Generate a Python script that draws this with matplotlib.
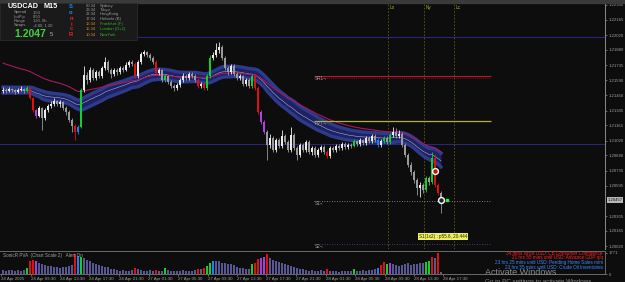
import numpy as np
import pandas as pd
import matplotlib
matplotlib.use("Agg")
import matplotlib.pyplot as plt
from matplotlib.patches import Rectangle
import matplotlib.transforms as mtransforms

plt.rcParams['font.family'] = ['Liberation Sans', 'DejaVu Sans']

# USDCAD M15 candles
first_open = 1.21490
closes = [1.21500, 1.21490, 1.21509, 1.21500, 1.21481, 1.21500, 1.21509, 1.21490, 1.21519, 1.21424,
          1.21310, 1.21253, 1.21329, 1.21234, 1.21310, 1.21348, 1.21367, 1.21396, 1.21367, 1.21386,
          1.21329, 1.21291, 1.21216, 1.21159, 1.21102, 1.21149, 1.21500, 1.21642, 1.21594, 1.21689,
          1.21613, 1.21670, 1.21632, 1.21708, 1.21765, 1.21689, 1.21651, 1.21689, 1.21670, 1.21708,
          1.21689, 1.21736, 1.21765, 1.21746, 1.21632, 1.21765, 1.21841, 1.21860, 1.21831, 1.21803,
          1.21765, 1.21661, 1.21689, 1.21594, 1.21632, 1.21575, 1.21538, 1.21519, 1.21547, 1.21594,
          1.21632, 1.21613, 1.21651, 1.21632, 1.21594, 1.21538, 1.21557, 1.21519, 1.21632, 1.21803,
          1.21831, 1.21878, 1.21907, 1.21803, 1.21708, 1.21670, 1.21727, 1.21651, 1.21613, 1.21632,
          1.21557, 1.21594, 1.21538, 1.21632, 1.21519, 1.21291, 1.21197, 1.21102, 1.20979, 1.21045,
          1.20932, 1.21026, 1.20969, 1.21064, 1.21007, 1.20932, 1.21074, 1.20950, 1.20884, 1.20979,
          1.20932, 1.21007, 1.20913, 1.20950, 1.20884, 1.20932, 1.20960, 1.20913, 1.20875, 1.20950,
          1.20932, 1.20969, 1.20950, 1.20988, 1.20960, 1.20979, 1.20969, 1.21017, 1.20988, 1.21026,
          1.20998, 1.21045, 1.21017, 1.21064, 1.21026, 1.20979, 1.21017, 1.21045, 1.21007, 1.21074,
          1.21102, 1.21064, 1.21083, 1.20979, 1.20884, 1.20789, 1.20723, 1.20647, 1.20572, 1.20600,
          1.20553, 1.20666, 1.20629, 1.20856, 1.20600, 1.20524, 1.20457]
highs = [1.21528, 1.21519, 1.21528, 1.21519, 1.21509, 1.21519, 1.21538, 1.21519, 1.21538, 1.21528,
         1.21433, 1.21320, 1.21348, 1.21339, 1.21329, 1.21367, 1.21396, 1.21424, 1.21405, 1.21405,
         1.21396, 1.21348, 1.21310, 1.21234, 1.21178, 1.21168, 1.21519, 1.21727, 1.21670, 1.21718,
         1.21708, 1.21689, 1.21689, 1.21727, 1.21812, 1.21784, 1.21708, 1.21708, 1.21708, 1.21727,
         1.21727, 1.21765, 1.21784, 1.21784, 1.21765, 1.21784, 1.21860, 1.21878, 1.21869, 1.21850,
         1.21822, 1.21784, 1.21708, 1.21699, 1.21651, 1.21642, 1.21594, 1.21557, 1.21566, 1.21613,
         1.21661, 1.21651, 1.21670, 1.21670, 1.21651, 1.21613, 1.21575, 1.21575, 1.21651, 1.21831,
         1.21860, 1.21945, 1.21954, 1.21926, 1.21822, 1.21727, 1.21746, 1.21746, 1.21670, 1.21651,
         1.21642, 1.21613, 1.21613, 1.21651, 1.21651, 1.21538, 1.21310, 1.21216, 1.21121, 1.21083,
         1.21064, 1.21045, 1.21045, 1.21121, 1.21083, 1.21026, 1.21149, 1.21093, 1.20969, 1.20998,
         1.20998, 1.21026, 1.21026, 1.20969, 1.20969, 1.20950, 1.20979, 1.20979, 1.20932, 1.20969,
         1.20969, 1.20988, 1.20988, 1.21007, 1.21007, 1.20998, 1.20998, 1.21036, 1.21026, 1.21045,
         1.21036, 1.21064, 1.21064, 1.21083, 1.21083, 1.21045, 1.21036, 1.21064, 1.21064, 1.21093,
         1.21149, 1.21140, 1.21121, 1.21102, 1.20998, 1.20903, 1.20818, 1.20742, 1.20666, 1.20629,
         1.20619, 1.20685, 1.20685, 1.20913, 1.20894, 1.20619, 1.20543]
lows = [1.21471, 1.21471, 1.21481, 1.21481, 1.21462, 1.21471, 1.21490, 1.21471, 1.21481, 1.21414,
        1.21291, 1.21234, 1.21244, 1.21121, 1.21216, 1.21291, 1.21329, 1.21348, 1.21348, 1.21339,
        1.21310, 1.21263, 1.21197, 1.21102, 1.21026, 1.21083, 1.21140, 1.21481, 1.21557, 1.21575,
        1.21594, 1.21594, 1.21613, 1.21613, 1.21689, 1.21670, 1.21613, 1.21632, 1.21642, 1.21651,
        1.21670, 1.21680, 1.21718, 1.21727, 1.21613, 1.21613, 1.21746, 1.21822, 1.21812, 1.21784,
        1.21746, 1.21642, 1.21642, 1.21575, 1.21575, 1.21557, 1.21519, 1.21490, 1.21500, 1.21528,
        1.21575, 1.21594, 1.21594, 1.21613, 1.21575, 1.21519, 1.21519, 1.21500, 1.21500, 1.21613,
        1.21784, 1.21812, 1.21850, 1.21784, 1.21689, 1.21642, 1.21651, 1.21632, 1.21594, 1.21594,
        1.21538, 1.21538, 1.21519, 1.21519, 1.21500, 1.21272, 1.21178, 1.21083, 1.20837, 1.20950,
        1.20913, 1.20913, 1.20950, 1.20950, 1.20988, 1.20913, 1.20913, 1.20932, 1.20837, 1.20865,
        1.20913, 1.20913, 1.20894, 1.20884, 1.20865, 1.20865, 1.20913, 1.20894, 1.20856, 1.20856,
        1.20913, 1.20913, 1.20932, 1.20932, 1.20941, 1.20941, 1.20950, 1.20960, 1.20969, 1.20969,
        1.20979, 1.20979, 1.20998, 1.20998, 1.21007, 1.20960, 1.20960, 1.20998, 1.20988, 1.20988,
        1.21055, 1.21045, 1.21045, 1.20960, 1.20865, 1.20771, 1.20695, 1.20619, 1.20505, 1.20486,
        1.20524, 1.20534, 1.20600, 1.20610, 1.20581, 1.20505, 1.20335]
volumes = [320, 280, 350, 300, 260, 310, 290, 340,
           480, 1100, 1180, 1050, 950,
           820, 760, 700, 640, 560, 600, 520, 560, 620, 700, 780,
           1690, 1480, 1420,
           1350, 1180, 1050, 900, 820, 760, 680, 600, 560,
           420, 380, 300, 260, 340, 280, 240, 300,
           460,
           380, 330, 280, 260, 300, 240,
           340, 260, 280, 480,
           300, 260, 220, 240, 280, 300, 260, 240, 280, 320,
           400, 420, 520, 700, 900, 1050,
           1100, 1050, 950, 900, 850, 800, 760,
           600, 520, 480, 420, 450,
           820, 900, 1250, 1300, 1450, 1650,
           1300, 1150, 1050, 980, 900, 800, 720, 650,
           560, 480, 420, 380, 300, 260, 320, 280, 240, 300,
           260, 380,
           220, 260, 240, 200, 260, 240, 280, 220,
           380,
           260, 240, 300, 280, 320, 360, 400,
           480, 720, 1000, 850, 900,
           820, 760, 700, 780, 820, 880, 760, 800, 840, 900,
           900, 1000, 1080, 1400, 1300, 1771, 180]

ema_long_seed = 1.21765

price_ticks = [1.22305, 1.22165, 1.22020, 1.21880, 1.21735, 1.21590, 1.21450, 1.21305,
               1.21165, 1.21020, 1.20880, 1.20735, 1.20595, 1.20305, 1.20165, 1.20020]
current_price = 1.20457

time_labels = ["24 Apr 2025", "24 Apr 09:30", "24 Apr 13:30", "24 Apr 17:30", "24 Apr 21:30",
               "27 Apr 01:30", "27 Apr 05:30", "27 Apr 09:30", "27 Apr 13:30", "27 Apr 17:30",
               "27 Apr 21:30", "28 Apr 01:30", "28 Apr 05:30", "28 Apr 09:30", "28 Apr 13:30",
               "28 Apr 17:30"]
time_label_bars = [-0.7, 9.2, 19.0, 28.8, 38.7, 48.5, 58.3, 68.2, 78.0, 87.8, 97.7, 107.5,
                   117.3, 127.2, 137.0, 146.8]

# pivot levels and lines
sr1, pvt, s1, s2 = 1.21632, 1.21206, 1.20448, 1.20041
navy_levels = [1.22002, 1.20988]
sessions = ["Lo", "Ny", "Lc"]
session_bars = [128.3, 140.3, 150.3]

# sonic R colouring
candle_colors = {}
for i in [9, 10, 24, 44, 51, 65, 67, 84, 85, 108, 144, 145]:
    candle_colors[i] = '#e01010'
for i in [8, 26, 54, 68, 69, 83, 117, 127, 129, 141, 143]:
    candle_colors[i] = '#10d030'
for i in [25, 125]:
    candle_colors[i] = '#1e7cff'
for i in [11, 86, 87]:
    candle_colors[i] = '#b040e0'

vol_colors = {}
for i in [9, 10, 24, 44, 51, 65, 67, 84, 85, 88, 108, 126, 127, 143, 145]:
    vol_colors[i] = '#e01010'
for i in [8, 26, 54, 68, 69, 83, 117, 128, 141, 142]:
    vol_colors[i] = '#10d030'
for i in [25, 70, 125]:
    vol_colors[i] = '#1e7cff'
for i in [11, 86, 87, 129]:
    vol_colors[i] = '#a040e0'

W, H = 625, 282
BG = '#0d0d0d'

closes = np.array(closes)
highs = np.array(highs)
lows = np.array(lows)
opens = np.concatenate([[first_open], closes[:-1]])
idx = np.arange(len(closes))

fig = plt.figure(figsize=(W / 100, H / 100), dpi=100, facecolor=BG)


def T(x, y, s, **kw):
    kw.setdefault('va', 'center')
    kw.setdefault('ha', 'left')
    fig.text(x / W, 1 - y / H, s, **kw)


fig.patches.append(Rectangle((0, 1 - 2.5 / H), 1, 2.5 / H, transform=fig.transFigure,
                             color='#3a3a3a', zorder=0))

ax = fig.add_axes([0, 33 / H, 605 / W, 246 / H], facecolor=BG)
sub = fig.add_axes([0, 8 / H, 605 / W, 23 / H], facecolor=BG)

xl = (-1, (605 - 3) / 3)
ax.set_xlim(*xl)
ax.set_ylim(1.22352 - 249 * 0.0000947, 1.22352 - 3 * 0.0000947)

# dragon + long ema
e_h = pd.Series(highs).ewm(span=34, adjust=False).mean().values
e_l = pd.Series(lows).ewm(span=34, adjust=False).mean().values
e_c = pd.Series(closes).ewm(span=34, adjust=False).mean().values
e_long = pd.Series(np.concatenate([[ema_long_seed], closes])).ewm(span=50, adjust=False).mean().values[1:]

ax.fill_between(idx, e_l, e_h, color='#1d2362', lw=0, zorder=1)
ax.plot(idx, e_h, color='#2e3a8c', lw=2.4, zorder=1)
ax.plot(idx, e_l, color='#2e3a8c', lw=2.4, zorder=1)
ax.plot(idx, e_c, color='#c0c0d8', lw=0.35, zorder=2)
ax.plot(idx, e_long, color='#a8185e', lw=0.8, zorder=2)

for lvl in navy_levels:
    ax.axhline(lvl, color='#26267a', lw=0.8, zorder=0.5)

# candles
cols = []
for i in idx:
    if i in candle_colors:
        cols.append(candle_colors[i])
    elif closes[i] >= opens[i]:
        cols.append('#ececec')
    else:
        cols.append('#9a9a9a')
ax.vlines(idx, lows, highs, colors=cols, lw=0.6, zorder=3)
body = np.where(np.abs(closes - opens) < 0.00003, 0.00003, closes - opens)
ax.bar(idx, body, bottom=opens, width=0.6, color=cols, lw=0, zorder=3)

# pivot levels
x0, x1 = 103.5, 162.5
ax.hlines(sr1, x0, x1, color='#c81020', lw=0.8, zorder=2)
ax.hlines(sr1 - 0.00014, x0, x1, color='#c81020', lw=0.5, linestyles=(0, (1, 2)), zorder=2)
ax.hlines(pvt, x0, x1, color='#b4b428', lw=0.9, zorder=2)
ax.hlines(s1, x0, x1, color='#a0a0b0', lw=0.6, linestyles=(0, (1, 2)), zorder=2)
ax.hlines(s2, x0, x1, color='#4c4ca0', lw=0.6, linestyles=(0, (1, 2)), zorder=2)
for name, lvl in [("SR1", sr1), ("PVT", pvt), ("S1", s1), ("S2", s2)]:
    ax.text(x0 + 0.3, lvl - 0.00022, name + "\u00ac", color='#a0a0a0', fontsize=3.3,
            va='center', ha='left', zorder=4)

# session lines
trans = mtransforms.blended_transform_factory(ax.transData, ax.transAxes)
for name, b in zip(sessions, session_bars):
    ax.axvline(b, color='#5c5c12', lw=0.6, ls=(0, (2, 2)), zorder=0.6)
    ax.text(b + 0.5, 0.99, name, transform=trans, color='#a8a830', fontsize=3.3,
            va='top', ha='left')

# markers
ax.plot([144], [1.20733], 'o', ms=4.2, mfc='#c01010', mec='white', mew=1.0, zorder=5)
ax.plot([146], [current_price], 'o', ms=4.2, mfc='#202020', mec='white', mew=1.0, zorder=5)
ax.plot([148], [current_price], 's', ms=1.8, color='#20ff20', zorder=5)
ax.text(146.7, 1.20112, "S1(1x2) : p55.6, 20.444", color='#202000', fontsize=3.3,
        ha='center', va='center', zorder=5,
        bbox=dict(boxstyle='square,pad=0.25', fc='#f0f060', ec='none'))

# right price axis
ax.yaxis.tick_right()
ax.set_yticks(price_ticks)
ax.set_yticklabels([f"{p:.5f}" for p in price_ticks])
ax.tick_params(axis='y', colors='#8a8a8a', labelcolor='#a0a0a0', labelsize=3.1, length=1.5,
               width=0.5, pad=1)
ax.set_xticks([])
for s in ['top', 'left', 'bottom']:
    ax.spines[s].set_visible(False)
ax.spines['right'].set_color('#8a8a8a')
ax.spines['right'].set_linewidth(0.7)
ytr = mtransforms.blended_transform_factory(ax.transAxes, ax.transData)
ax.text(1.004, current_price, "1.20457", transform=ytr, fontsize=3.1, color='#101010',
        va='center', ha='left', bbox=dict(boxstyle='square,pad=0.2', fc='#b8b8b8', ec='none'))

# volume sub window
sub.set_xlim(*xl)
sub.set_ylim(0, 1910)
vcols = [vol_colors.get(i, '#575794') for i in idx]
sub.bar(idx, volumes, width=0.6, color=vcols, lw=0)
sub.yaxis.tick_right()
sub.set_yticks([0, 1771])
sub.set_yticklabels(["0", "1771"])
sub.tick_params(axis='y', colors='#8a8a8a', labelcolor='#a0a0a0', labelsize=3.1, length=1.5,
                width=0.5, pad=1)
sub.set_xticks(time_label_bars)
sub.set_xticklabels(time_labels)
for lbl in sub.get_xticklabels():
    lbl.set_ha('left')
sub.tick_params(axis='x', colors='#8a8a8a', labelcolor='#a0a0a0', labelsize=3.2, length=1.5,
                width=0.5, pad=1)
for s in ['left']:
    sub.spines[s].set_visible(False)
for s in ['top', 'bottom', 'right']:
    sub.spines[s].set_color('#6a6a6a')
    sub.spines[s].set_linewidth(0.7)

T(3, 255.5, "SonicR PVA  (Chart Scale 2)   Alert On", color='#a0a0a0', fontsize=3.3)
news = [("34 mins since USD: CB Consumer Confidence", '#ff2020', 253.5),
        ("21 hrs 55 mins until USD: Advance GDP q/q", '#ff2020', 258),
        ("23 hrs 25 mins until USD: Pending Home Sales m/m", '#3a8aff', 262.5),
        ("23 hrs 55 mins until USD: Crude Oil Inventories", '#3a8aff', 267.3)]
for s, c, y in news:
    T(603, y, s, color=c, fontsize=3.3, ha='right')

# info panel
fig.patches.append(Rectangle((0, 1 - 40 / H), 137 / W, 37 / H, transform=fig.transFigure,
                             fc='#1a1a1a', ec='#2c2c2c', lw=0.6, zorder=1))
T(8, 7, "USDCAD", color='white', fontsize=5.2, fontweight='bold', zorder=3)
T(43, 7, "M15", color='white', fontsize=5.2, fontweight='bold', zorder=3)
info = [("Spread", "1.50", 12.5), ("LotPip", "8.50", 16.8), ("Range", "120. 0h", 21),
        ("Swaps", "-4.80, 1.20", 25.2)]
for k, v, y in info:
    T(14, y, k, color='#9a9a9a', fontsize=3.0, zorder=3)
    T(33, y, v, color='#9a9a9a', fontsize=3.0, zorder=3)
T(14, 34, "1.2047", color='#40d040', fontsize=7.5, fontweight='bold', zorder=3)
T(50, 35, "5", color='#b0b0b0', fontsize=4.2, zorder=3)
for ch, y, c in [("S", 6, '#1e8cff'), ("o", 12.5, '#1e8cff'), ("n", 18.5, '#e03020'),
                 ("i", 24, '#e02020'), ("c", 29, '#e02020'), ("R", 34.5, '#ff1a1a')]:
    T(71, y, ch, color=c, fontsize=4.2, fontweight='bold', ha='center', zorder=3)
clocks = [("00:34", "Sydney", 5.7), ("23:34", "Tokyo", 10), ("22:34", "HongKong", 14.3),
          ("17:34", "Helsinki (B)", 18.7), ("16:34", "Frankfurt (F)", 24),
          ("15:34", "London (G+1)", 29.3), ("10:34", "NewYork", 34.5)]
for k, (t, name, y) in enumerate(clocks):
    tc, nc = ('#9a9a9a', '#9a9a9a') if k < 4 else ('#d08a20', '#30b030')
    T(86, y, t, color=tc, fontsize=3.0, zorder=3)
    T(100, y, name, color=nc, fontsize=3.0, zorder=3)

# windows watermark
T(485, 272.5, "Activate Windows", color='#8c8c8c', fontsize=6.5)
T(485, 281.5, "Go to PC settings to activate Windows.", color='#8c8c8c', fontsize=4.5)

fig.savefig("out.png", dpi=100, facecolor=BG)
